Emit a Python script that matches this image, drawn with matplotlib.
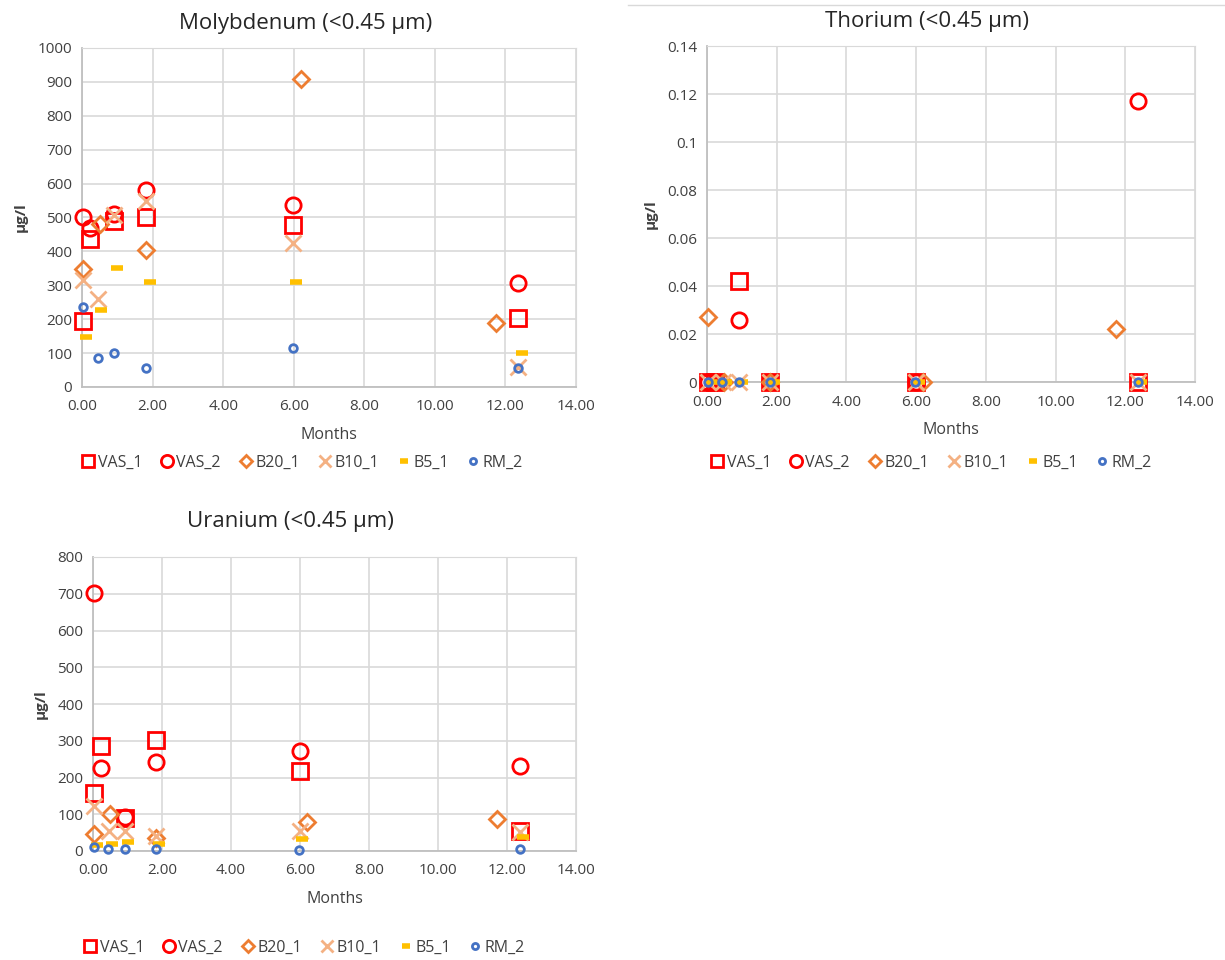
import matplotlib
matplotlib.use('Agg')
import matplotlib.pyplot as plt
from matplotlib.ticker import FuncFormatter, MultipleLocator

plt.rcParams['font.family'] = ['Open Sans', 'DejaVu Sans']

series = ['VAS_1', 'VAS_2', 'B20_1', 'B10_1', 'B5_1', 'RM_2']

# sampling times (months) per series
t_vas1 = [0.03, 0.24, 0.92, 1.82, 5.99, 12.37]
t_vas2 = [0.03, 0.24, 0.92, 1.82, 5.99, 12.37]
t_b20 = [0.03, 0.50, 1.82, 6.21, 11.72]
t_b10 = [0.03, 0.45, 0.92, 1.82, 5.99, 12.37]
t_b5 = [0.12, 0.54, 1.00, 1.92, 6.07, 12.46]
t_rm2 = [0.02, 0.44, 0.92, 1.82, 5.97, 12.37]

# Molybdenum
mo_vas1 = [196, 436, 490, 502, 478, 203]
mo_vas2 = [500, 470, 510, 581, 538, 308]
mo_b20 = [348, 482, 404, 908, 188]
mo_b10 = [316, 260, 507, 549, 424, 59]
mo_b5 = [147, 228, 350, 309, 309, 101]
mo_rm2 = [235, 86, 101, 55, 114, 57]

# Thorium
th_vas1 = [0, 0, 0.042, 0, 0, 0]
th_vas2 = [0, 0, 0.026, 0, 0, 0.117]
th_b20 = [0.027, 0, 0, 0, 0.022]
th_b10 = [0, 0, 0, 0, 0, 0]
th_b5 = [0, 0, 0, 0, 0, 0]
th_rm2 = [0, 0, 0, 0, 0, 0]

# Uranium
u_vas1 = [157, 287, 90, 301, 217, 55]
u_vas2 = [703, 225, 93, 242, 272, 232]
u_b20 = [46, 100, 35, 78, 86]
u_b10 = [122, 55, 55, 40, 54, 52]
u_b5 = [16, 20, 24, 18, 34, 39]
u_rm2 = [10, 5, 5, 5, 3, 5]

times = [t_vas1, t_vas2, t_b20, t_b10, t_b5, t_rm2]

styles = [
    dict(marker='s', ms=11, mfc='none', mec='#FF0000', mew=2),
    dict(marker='o', ms=11, mfc='none', mec='#FF0000', mew=2),
    dict(marker='D', ms=8, mfc='none', mec='#ED7D31', mew=2),
    dict(marker='x', ms=11, mec='#F4B183', mew=2),
    dict(marker='_', ms=8, mec='#FFC000', mew=4),
    dict(marker='o', ms=5.5, mfc='none', mec='#4472C4', mew=2),
]

fig = plt.figure(figsize=(12.25, 9.6), dpi=100)
W, H = 1225, 960


def make_axes(l, t, r, b):
    return fig.add_axes([l / W, 1 - b / H, (r - l) / W, (b - t) / H])


def draw(ax, values, title, title_xy, ymax, ystep, fmt, leg_xy):
    for name, tx, vals, st in zip(series, times, values, styles):
        ax.plot(tx, vals, ls='none', label=name, clip_on=False, zorder=3, **st)
    ax.set_xlim(0, 14)
    ax.set_ylim(0, ymax)
    ax.xaxis.set_major_locator(MultipleLocator(2))
    ax.yaxis.set_major_locator(MultipleLocator(ystep))
    ax.xaxis.set_major_formatter(FuncFormatter(lambda v, p: f'{v:.2f}'))
    ax.yaxis.set_major_formatter(FuncFormatter(fmt))
    ax.grid(True, color='#D9D9D9', lw=1.2)
    ax.set_axisbelow(True)
    for s in ['top', 'right']:
        ax.spines[s].set_color('#D9D9D9')
    for s in ['left', 'bottom']:
        ax.spines[s].set_color('#BFBFBF')
        ax.spines[s].set_linewidth(1.3)
    ax.tick_params(length=0, labelsize=11, colors='#404040')
    ax.tick_params(axis='x', pad=9)
    ax.tick_params(axis='y', pad=7)
    fig.text(title_xy[0] / W, 1 - title_xy[1] / H, title, fontsize=16, color='#262626',
             ha='center', va='center')
    ax.set_xlabel('Months', fontsize=11.5, color='#404040', labelpad=9)
    ax.set_ylabel('µg/l', fontsize=11, color='#404040', fontweight='bold', labelpad=7)
    ax.legend(loc='center', bbox_to_anchor=(leg_xy[0] / W, 1 - leg_xy[1] / H),
              bbox_transform=fig.transFigure, ncol=6, frameon=False,
              fontsize=11.5, handletextpad=0.15, columnspacing=1.1, handlelength=0.9,
              markerscale=0.8, labelcolor='#404040')


ax1 = make_axes(82, 48, 576, 387)
draw(ax1, [mo_vas1, mo_vas2, mo_b20, mo_b10, mo_b5, mo_rm2],
     'Molybdenum (<0.45 µm)', (306, 23), 1000, 100, lambda v, p: f'{v:g}', (302, 463))

ax2 = make_axes(707, 46, 1195, 382)
draw(ax2, [th_vas1, th_vas2, th_b20, th_b10, th_b5, th_rm2],
     'Thorium (<0.45 µm)', (927, 22), 0.14, 0.02, lambda v, p: f'{round(v, 3):g}', (931, 463))

ax3 = make_axes(93, 557, 576, 851)
draw(ax3, [u_vas1, u_vas2, u_b20, u_b10, u_b5, u_rm2],
     'Uranium (<0.45 µm)', (290, 522), 800, 100, lambda v, p: f'{v:g}', (304, 948))

fig.add_artist(plt.Line2D([628 / W, 1 - 1 / W], [1 - 5 / H, 1 - 5 / H], color='#D9D9D9', lw=1))

fig.savefig('out.png', dpi=100, facecolor='white')
